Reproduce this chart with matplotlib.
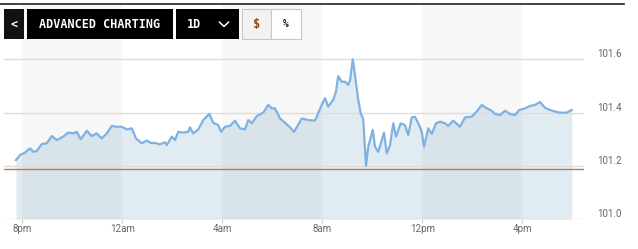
import matplotlib
matplotlib.use("Agg")
import matplotlib.pyplot as plt
from matplotlib.patches import Rectangle

# hours after 8pm, price
hours = [-0.25, -0.09, 0.11, 0.31, 0.44, 0.58, 0.78, 0.98, 1.18, 1.38, 1.64, 1.84,
         2.04, 2.18, 2.34, 2.58, 2.78, 2.98, 3.18, 3.38, 3.58, 3.78, 3.98, 4.18,
         4.38, 4.55, 4.78, 4.98, 5.18, 5.31, 5.44, 5.51, 5.71, 5.78, 5.98, 6.11,
         6.24, 6.44, 6.64, 6.71, 6.84, 7.04, 7.24, 7.48, 7.64, 7.84, 7.95, 8.11,
         8.31, 8.51, 8.71, 8.91, 9.04, 9.18, 9.38, 9.64, 9.84, 9.98, 10.11, 10.31,
         10.51, 10.71, 10.87, 11.11, 11.18, 11.44, 11.71, 11.84, 11.98, 12.11, 12.24,
         12.44, 12.55, 12.64, 12.78, 12.91, 13.04, 13.11, 13.22, 13.31, 13.44, 13.54,
         13.64, 13.75, 13.84, 14.02, 14.11, 14.24, 14.47, 14.58, 14.71, 14.84, 14.95,
         15.14, 15.31, 15.44, 15.58, 15.71, 15.88, 15.98, 16.07, 16.24, 16.38, 16.55,
         16.71, 16.91, 17.04, 17.24, 17.51, 17.71, 17.88, 17.98, 18.18, 18.38, 18.58,
         18.78, 18.91, 19.11, 19.31, 19.51, 19.71, 19.88, 20.11, 20.31, 20.51, 20.71,
         20.91, 21.11, 21.31, 21.51, 21.78, 21.98]
prices = [101.222, 101.241, 101.250, 101.266, 101.253, 101.256, 101.282, 101.285,
          101.312, 101.297, 101.310, 101.325, 101.322, 101.328, 101.300, 101.332,
          101.312, 101.322, 101.303, 101.322, 101.350, 101.347, 101.347, 101.337,
          101.341, 101.303, 101.285, 101.295, 101.285, 101.287, 101.282, 101.281,
          101.289, 101.278, 101.310, 101.297, 101.328, 101.325, 101.328, 101.345,
          101.322, 101.337, 101.372, 101.395, 101.362, 101.353, 101.328, 101.347,
          101.350, 101.370, 101.341, 101.337, 101.372, 101.360, 101.387, 101.400,
          101.429, 101.416, 101.416, 101.378, 101.362, 101.345, 101.328, 101.366,
          101.378, 101.372, 101.370, 101.398, 101.429, 101.454, 101.423, 101.448,
          101.479, 101.537, 101.516, 101.516, 101.504, 101.520, 101.600, 101.541,
          101.448, 101.397, 101.375, 101.200, 101.272, 101.335, 101.272, 101.253,
          101.325, 101.247, 101.278, 101.360, 101.310, 101.360, 101.353, 101.316,
          101.382, 101.384, 101.353, 101.328, 101.272, 101.341, 101.320, 101.360,
          101.366, 101.360, 101.350, 101.370, 101.347, 101.382, 101.384, 101.385,
          101.404, 101.429, 101.416, 101.407, 101.395, 101.391, 101.407, 101.395,
          101.391, 101.410, 101.416, 101.425, 101.429, 101.440, 101.418, 101.410,
          101.404, 101.400, 101.400, 101.410]
prev_close = 101.187

xtick_pos = [0, 4, 8, 12, 16, 20]
xtick_labels = ["8pm", "12am", "4am", "8am", "12pm", "4pm"]
ytick_pos = [101.0, 101.2, 101.4, 101.6]
ytick_labels = ["101.0", "101.2", "101.4", "101.6"]
band_starts = [0, 8, 16]

W, H = 638, 249
fig = plt.figure(figsize=(W / 100, H / 100), dpi=100)
ax = fig.add_axes([4 / W, 1 - 219.2 / H, 580 / W, 214.2 / H])
ax.set_xlim(-0.73, 22.47)
ax.set_ylim(101.0, 101.804)

ax.fill_between(hours, prices, 101.0, color="#e1ebf2", lw=0, zorder=1)
for b in band_starts:
    ax.axvspan(b, b + 4, color="black", alpha=0.03, lw=0, zorder=1.5)
for v in ytick_pos:
    ax.axhline(v, color="#dddddd", lw=1, zorder=2)
ax.axhline(prev_close, color="#c57a45", lw=1, zorder=2.6)
ax.plot(hours, prices, color="#7fb1e2", lw=1.6, zorder=3, solid_joinstyle="round")

for s in ax.spines.values():
    s.set_visible(False)

ax.set_xticks(xtick_pos)
ax.set_xticklabels(xtick_labels)
ax.set_yticks(ytick_pos)
ax.set_yticklabels(ytick_labels)
ax.yaxis.tick_right()
ax.tick_params(axis="y", length=0, pad=9.4, labelsize=7, labelcolor="#666666")
ax.tick_params(axis="x", length=2.6, width=0.8, color="#cccccc", pad=1,
               labelsize=7, labelcolor="#666666")
for lab in ax.get_xticklabels() + ax.get_yticklabels():
    lab.set_fontfamily("Roboto")
for lab in ax.get_yticklabels():
    lab.set_verticalalignment("bottom")

# toolbar overlay in pixel coordinates
ov = fig.add_axes([0, 0, 1, 1], zorder=10)
ov.set_xlim(0, W)
ov.set_ylim(H, 0)
ov.axis("off")
ov.patch.set_alpha(0)

ov.plot([0, 624], [4.3, 4.3], color="#1e2228", lw=1.2)

mono = dict(family="DejaVu Sans Mono", weight="bold", size=8.5,
            ha="center", va="center")
ov.add_patch(Rectangle((4, 9), 20, 30, color="#121212", lw=0))
ov.text(14, 24, "<", color="white", **mono)
ov.add_patch(Rectangle((27, 9), 146, 30, color="#000000", lw=0))
ov.text(100, 24, "ADVANCED CHARTING", color="white", **mono)
ov.add_patch(Rectangle((176, 9), 63, 30, color="#000000", lw=0))
ov.text(193.5, 24, "1D", color="white", **mono)
ov.plot([219.5, 224, 228.5], [22.2, 26.5, 22.2], color="white", lw=1.1)
ov.add_patch(Rectangle((242, 9), 29, 30, facecolor="#f2f2f2",
                       edgecolor="#c8c8c8", lw=0.8))
ov.text(256.5, 24, "$", color="#8a4b12", **mono)
ov.add_patch(Rectangle((271, 9), 30, 30, facecolor="white",
                       edgecolor="#c8c8c8", lw=0.8))
ov.text(286, 24, "%", color="#222222", family="DejaVu Sans Mono",
        weight="bold", size=7, ha="center", va="center")

fig.savefig("out.png", dpi=100)
